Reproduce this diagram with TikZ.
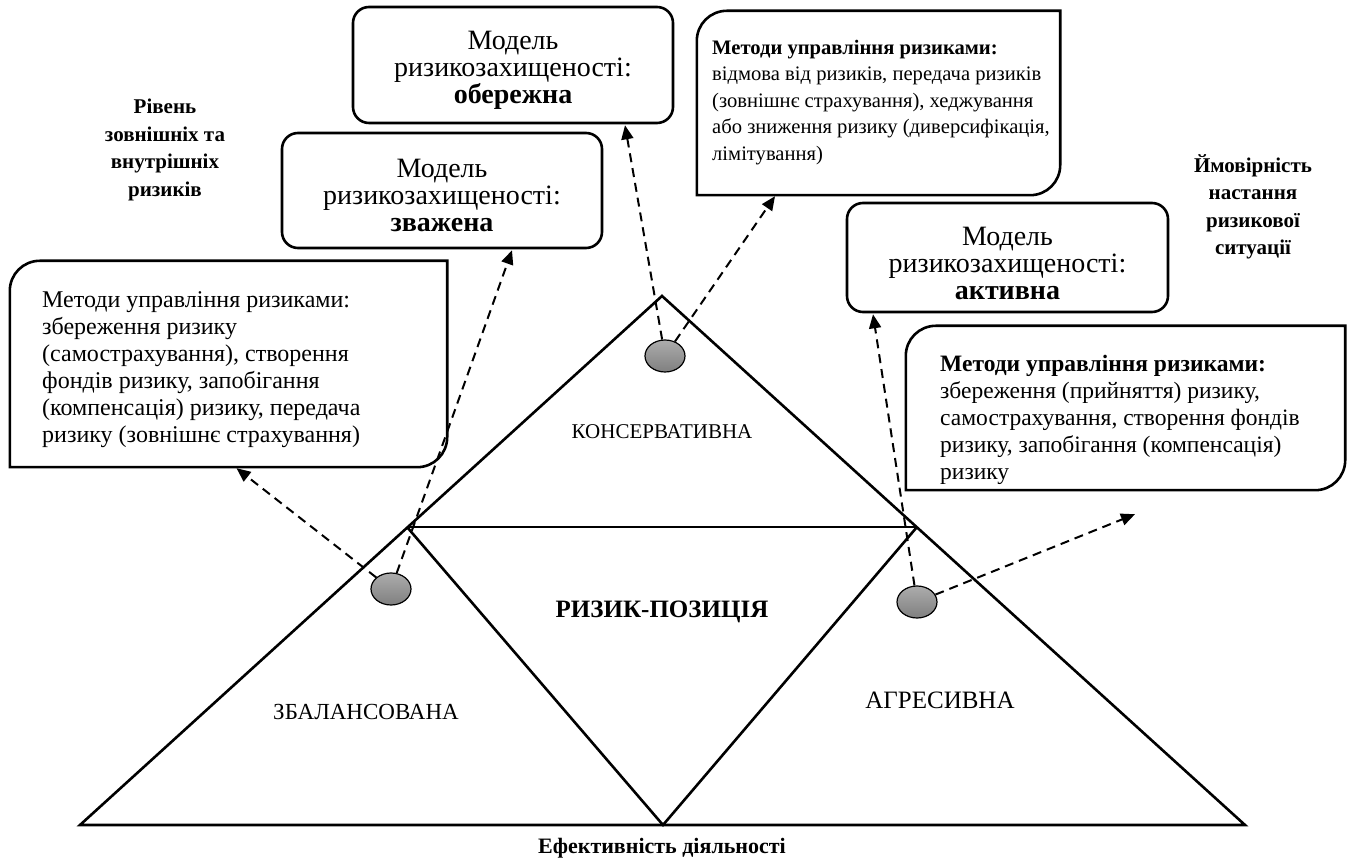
\documentclass[tikz,border=0pt]{standalone}
\usepackage{fontspec}
\setmainfont{Liberation Serif}
\usetikzlibrary{arrows.meta,shapes.geometric,calc}
\newcommand\diagframe[2]{%
  \draw[frame] (#1.south west) -- ([yshift=-#2]#1.north west)
    arc[start angle=180,end angle=90,radius=#2] -- (#1.north east)
    -- ([yshift=#2]#1.south east)
    arc[start angle=0,end angle=-90,radius=#2] -- cycle;}
\tikzset{
  area/.style={rectangle, inner sep=0pt, draw=none},
  frame/.style={line width=2.6pt},
  modelbox/.style={rectangle, rounded corners=16pt, draw, line width=2.6pt, inner sep=0pt},
  modeltext/.style={inner sep=0pt, align=center, font=\fontsize{28}{27}\selectfont},
  tri/.style={line width=2.6pt, line join=miter},
  blob/.style={ellipse, draw, line width=1.2pt, minimum width=40pt, minimum height=32pt, inner sep=0pt, top color=gray!65, bottom color=gray!100},
  dasharrow/.style={line width=2pt, dash pattern=on 9pt off 6pt, -{Triangle[length=14pt,width=12pt]}},
  methtext/.style={anchor=north west, inner sep=0pt, align=left},
  lbl/.style={inner sep=0pt, align=center, font=\fontsize{21}{27}\selectfont},
}
\begin{document}
\begin{tikzpicture}[x=1pt,y=1pt]
\useasboundingbox (0,0) rectangle (1352,860);
% triangle structure
\coordinate (A) at (662,564);
\coordinate (BL) at (80,35);
\coordinate (BR) at (1245,35);
\coordinate (BM) at (663,35);
\coordinate (L) at (407,333);
\coordinate (R) at (917,333);
\draw[tri] (BL) -- (A) -- (BR) -- cycle;
\draw[tri] (L) -- (R);
\draw[tri] (L) -- (BM) -- (R);
% method boxes
\node[area, minimum width=437pt, minimum height=206pt] (m1) at (228.5,496) {};
\diagframe{m1}{30pt}
\node[methtext, font=\fontsize{24}{27}\selectfont] (m1t) at (42,569) {Методи управління ризиками:\\збереження ризику\\(самострахування), створення\\фондів ризику, запобігання\\(компенсація) ризику, передача\\ризику (зовнішнє страхування)};
\node[area, minimum width=363pt, minimum height=184pt] (m2) at (878.5,757) {};
\diagframe{m2}{30pt}
\node[methtext, font=\fontsize{20.6}{26.4}\selectfont] (m2t) at (712,820) {\textbf{Методи управління ризиками:}\\відмова від ризиків, передача ризиків\\(зовнішнє страхування), хеджування\\або зниження ризику (диверсифікація,\\лімітування)};
\node[area, minimum width=439pt, minimum height=164pt] (m3) at (1125.5,452) {};
\diagframe{m3}{30pt}
\node[methtext, font=\fontsize{23.5}{27}\selectfont] (m3t) at (940,505) {\textbf{Методи управління ризиками:}\\збереження (прийняття) ризику,\\самострахування, створення фондів\\ризику, запобігання (компенсація)\\ризику};
% model boxes
\node[modelbox, minimum width=320pt, minimum height=116pt] (o1) at (513,795) {};
\node[modeltext] (o1t) at ([yshift=-5pt]o1.center) {Модель\\ризикозахищеності:\\\textbf{обережна}};
\node[modelbox, minimum width=320pt, minimum height=115pt] (o2) at (442,669.5) {};
\node[modeltext] (o2t) at ([yshift=-5pt]o2.center) {Модель\\ризикозахищеності:\\\textbf{зважена}};
\node[modelbox, minimum width=321pt, minimum height=109pt] (o3) at (1007.5,602.5) {};
\node[modeltext] (o3t) at ([yshift=-6pt]o3.center) {Модель\\ризикозахищеності:\\\textbf{активна}};
% labels
\node[lbl, font=\fontsize{21}{27.5}\selectfont\bfseries] (lv) at (165,710) {Рівень\\зовнішніх та\\внутрішніх\\ризиків};
\node[lbl, font=\fontsize{21}{27.5}\selectfont\bfseries] (pr) at (1253,653) {Ймовірність\\настання\\ризикової\\ситуації};
\node[lbl] (kons) at (662,428) {КОНСЕРВАТИВНА};
\node[lbl, font=\fontsize{25}{27}\selectfont\bfseries] (rp) at (662,248) {РИЗИК-ПОЗИЦІЯ};
\node[lbl, font=\fontsize{23}{27}\selectfont] (zb) at (366,148) {ЗБАЛАНСОВАНА};
\node[lbl, font=\fontsize{25}{27}\selectfont] (ag) at (940,160) {АГРЕСИВНА};
\node[lbl, font=\fontsize{22}{27}\selectfont\bfseries] (ef) at (662,12) {Ефективність діяльності};
% ellipses
\node[blob] (e1) at (391,271) {};
\node[blob] (e2) at (665,504) {};
\node[blob] (e3) at (917,258) {};
% arrows
\draw[dasharrow] (e1) -- ([xshift=8pt,yshift=-1pt]m1.south);
\draw[dasharrow] (e1) -- ([xshift=70pt,yshift=-1pt]o2.south);
\draw[dasharrow] (e2) -- ([xshift=112pt,yshift=-1pt]o1.south);
\draw[dasharrow] (e2) -- ([xshift=-103.5pt,yshift=-1pt]m2.south);
\draw[dasharrow] (e3) -- ([xshift=-134.5pt,yshift=-1pt]o3.south);
\draw[dasharrow] (e3) -- ([xshift=9.5pt,yshift=-24pt]m3.south);
\end{tikzpicture}
\end{document}
